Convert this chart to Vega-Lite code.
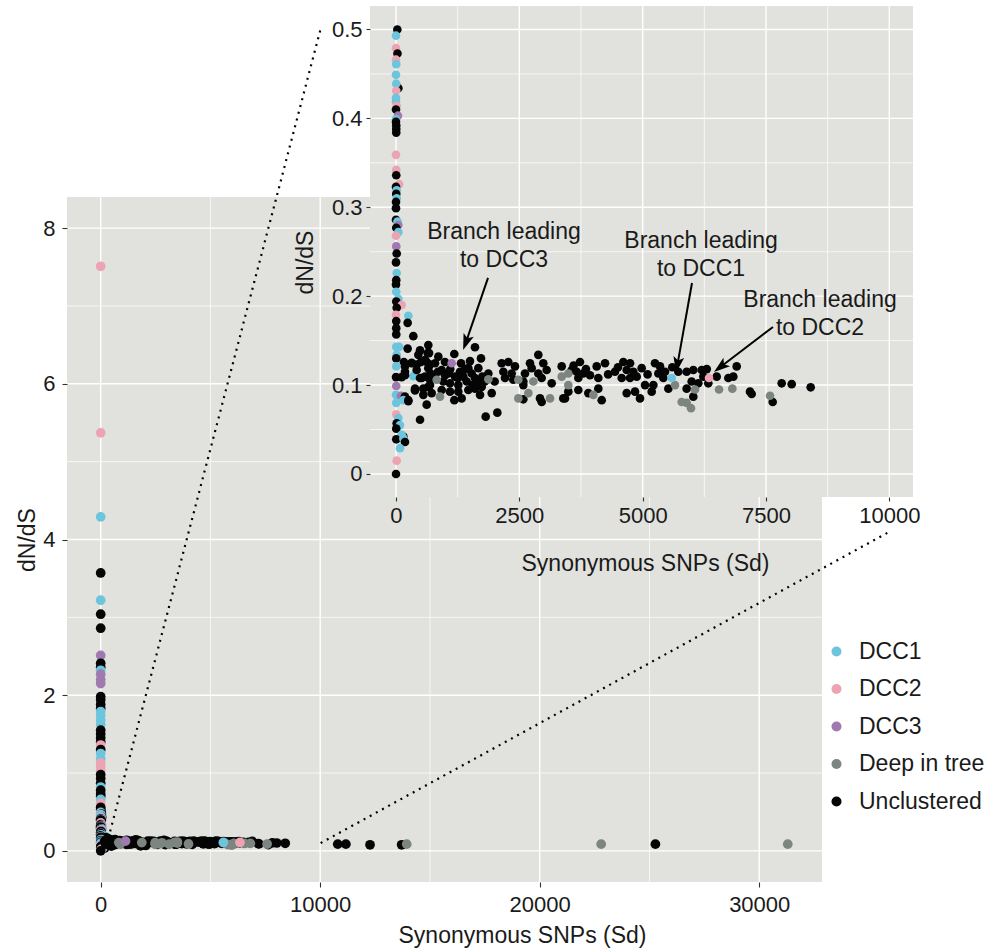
{
  "$schema": "https://vega.github.io/schema/vega-lite/v6.json",
  "width": 987,
  "height": 949,
  "autosize": {"type": "none"},
  "padding": 0,
  "background": "white",
  "config": {
    "view": {"stroke": null},
    "font": "Liberation Sans",
    "axis": {"domain": false, "grid": false, "tickColor": "#333333", "tickWidth": 1.1, "labelFont": "Liberation Sans", "labelFontSize": 22, "labelColor": "#1a1a1a", "titleFont": "Liberation Sans", "titleFontSize": 23, "titleFontWeight": "normal", "titleColor": "#1a1a1a", "labelFlush": false, "labelOverlap": false, "zindex": 1}
  },
  "datasets": {
    "pts": [
      {"sd":0,"dnds":7.51,"group":"DCC2"},{"sd":0,"dnds":5.37,"group":"DCC2"},{"sd":0,"dnds":4.29,"group":"DCC1"},{"sd":0,"dnds":3.57,"group":"Unclustered"},{"sd":0,"dnds":3.22,"group":"DCC1"},{"sd":0,"dnds":3.04,"group":"Unclustered"},{"sd":0,"dnds":2.86,"group":"Unclustered"},{"sd":0,"dnds":2.51,"group":"DCC3"},{"sd":0,"dnds":2.41,"group":"Unclustered"},{"sd":0,"dnds":2.36,"group":"Unclustered"},{"sd":0,"dnds":2.32,"group":"DCC1"},{"sd":0,"dnds":2.27,"group":"DCC3"},{"sd":0,"dnds":2.2,"group":"DCC3"},{"sd":0,"dnds":2.15,"group":"DCC3"},{"sd":0,"dnds":1.98,"group":"Unclustered"},{"sd":0,"dnds":1.94,"group":"Unclustered"},{"sd":0,"dnds":1.88,"group":"Unclustered"},{"sd":0,"dnds":1.83,"group":"Unclustered"},{"sd":0,"dnds":1.79,"group":"DCC1"},{"sd":0,"dnds":1.74,"group":"DCC1"},{"sd":0,"dnds":1.68,"group":"DCC1"},{"sd":0,"dnds":1.62,"group":"DCC1"},{"sd":0,"dnds":1.55,"group":"Unclustered"},{"sd":0,"dnds":1.5,"group":"Unclustered"},{"sd":0,"dnds":1.45,"group":"Unclustered"},{"sd":0,"dnds":1.4,"group":"Unclustered"},{"sd":0,"dnds":1.36,"group":"DCC2"},{"sd":0,"dnds":1.3,"group":"Unclustered"},{"sd":0,"dnds":1.25,"group":"DCC1"},{"sd":0,"dnds":1.18,"group":"DCC1"},{"sd":0,"dnds":1.13,"group":"DCC2"},{"sd":0,"dnds":1.08,"group":"DCC2"},{"sd":0,"dnds":1.03,"group":"DCC2"},{"sd":0,"dnds":0.98,"group":"Unclustered"},{"sd":0,"dnds":0.93,"group":"Unclustered"},{"sd":0,"dnds":0.87,"group":"Unclustered"},{"sd":0,"dnds":0.82,"group":"DCC1"},{"sd":0,"dnds":0.78,"group":"Unclustered"},{"sd":0,"dnds":0.73,"group":"Unclustered"},{"sd":0,"dnds":0.7,"group":"Unclustered"},{"sd":0,"dnds":0.66,"group":"DCC1"},{"sd":0,"dnds":0.61,"group":"DCC2"},{"sd":0,"dnds":0.56,"group":"Unclustered"},{"sd":0,"dnds":0.53,"group":"Unclustered"},
      {"sd":27,"dnds":0.5,"group":"Unclustered"},{"sd":0,"dnds":0.493,"group":"DCC1"},{"sd":0,"dnds":0.479,"group":"DCC2"},{"sd":30,"dnds":0.473,"group":"Unclustered"},{"sd":0,"dnds":0.466,"group":"DCC2"},{"sd":5,"dnds":0.461,"group":"DCC1"},{"sd":0,"dnds":0.449,"group":"DCC1"},{"sd":47,"dnds":0.434,"group":"Unclustered"},{"sd":5,"dnds":0.439,"group":"DCC1"},{"sd":5,"dnds":0.431,"group":"DCC2"},{"sd":0,"dnds":0.423,"group":"DCC1"},{"sd":0,"dnds":0.419,"group":"DCC1"},{"sd":14,"dnds":0.414,"group":"DCC2"},{"sd":0,"dnds":0.41,"group":"Unclustered"},{"sd":40,"dnds":0.403,"group":"DCC3"},{"sd":0,"dnds":0.399,"group":"DCC1"},{"sd":0,"dnds":0.396,"group":"Unclustered"},{"sd":5,"dnds":0.392,"group":"Unclustered"},{"sd":5,"dnds":0.388,"group":"Unclustered"},{"sd":5,"dnds":0.384,"group":"Unclustered"},{"sd":0,"dnds":0.359,"group":"DCC2"},{"sd":5,"dnds":0.342,"group":"DCC2"},{"sd":5,"dnds":0.336,"group":"Unclustered"},{"sd":61,"dnds":0.326,"group":"DCC2"},{"sd":0,"dnds":0.323,"group":"Unclustered"},{"sd":14,"dnds":0.319,"group":"DCC1"},{"sd":5,"dnds":0.315,"group":"Unclustered"},{"sd":14,"dnds":0.31,"group":"DCC1"},{"sd":0,"dnds":0.306,"group":"Unclustered"},{"sd":0,"dnds":0.299,"group":"Unclustered"},{"sd":0,"dnds":0.286,"group":"Unclustered"},{"sd":30,"dnds":0.284,"group":"DCC1"},{"sd":47,"dnds":0.28,"group":"DCC3"},{"sd":5,"dnds":0.277,"group":"Unclustered"},{"sd":47,"dnds":0.272,"group":"DCC1"},{"sd":0,"dnds":0.268,"group":"DCC2"},{"sd":5,"dnds":0.256,"group":"DCC3"},
      {"sd":14,"dnds":0.248,"group":"Unclustered"},{"sd":0,"dnds":0.238,"group":"Unclustered"},{"sd":14,"dnds":0.226,"group":"DCC1"},{"sd":5,"dnds":0.218,"group":"Unclustered"},{"sd":0,"dnds":0.213,"group":"Unclustered"},{"sd":5,"dnds":0.205,"group":"DCC1"},{"sd":47,"dnds":0.197,"group":"DCC1"},{"sd":5,"dnds":0.194,"group":"Unclustered"},{"sd":115,"dnds":0.19,"group":"DCC2"},{"sd":14,"dnds":0.187,"group":"Unclustered"},{"sd":0,"dnds":0.179,"group":"DCC2"},{"sd":250,"dnds":0.178,"group":"DCC1"},{"sd":236,"dnds":0.17,"group":"Unclustered"},{"sd":5,"dnds":0.172,"group":"Unclustered"},{"sd":5,"dnds":0.164,"group":"Unclustered"},{"sd":351,"dnds":0.155,"group":"Unclustered"},{"sd":5,"dnds":0.157,"group":"Unclustered"},{"sd":5,"dnds":0.143,"group":"DCC1"},{"sd":61,"dnds":0.143,"group":"DCC1"},{"sd":236,"dnds":0.141,"group":"Unclustered"},{"sd":487,"dnds":0.139,"group":"Unclustered"},{"sd":655,"dnds":0.145,"group":"Unclustered"},{"sd":14,"dnds":0.134,"group":"DCC1"},{"sd":5,"dnds":0.13,"group":"Unclustered"},{"sd":160,"dnds":0.126,"group":"Unclustered"},{"sd":318,"dnds":0.125,"group":"Unclustered"},{"sd":453,"dnds":0.134,"group":"Unclustered"},{"sd":642,"dnds":0.136,"group":"Unclustered"},{"sd":419,"dnds":0.123,"group":"Unclustered"},{"sd":588,"dnds":0.128,"group":"Unclustered"},{"sd":689,"dnds":0.123,"group":"Unclustered"},{"sd":5,"dnds":0.121,"group":"DCC1"},{"sd":182,"dnds":0.115,"group":"Unclustered"},{"sd":115,"dnds":0.109,"group":"Unclustered"},{"sd":351,"dnds":0.11,"group":"DCC1"},{"sd":0,"dnds":0.109,"group":"Unclustered"},{"sd":487,"dnds":0.108,"group":"Unclustered"},{"sd":689,"dnds":0.106,"group":"Unclustered"},{"sd":655,"dnds":0.098,"group":"Unclustered"},{"sd":5,"dnds":0.099,"group":"DCC3"},{"sd":385,"dnds":0.094,"group":"Unclustered"},{"sd":554,"dnds":0.096,"group":"Unclustered"},{"sd":0,"dnds":0.089,"group":"DCC1"},{"sd":101,"dnds":0.088,"group":"DCC3"},{"sd":182,"dnds":0.087,"group":"Unclustered"},{"sd":149,"dnds":0.083,"group":"DCC1"},{"sd":250,"dnds":0.082,"group":"Unclustered"},{"sd":622,"dnds":0.078,"group":"Unclustered"},{"sd":5,"dnds":0.08,"group":"DCC1"},{"sd":5,"dnds":0.067,"group":"DCC2"},{"sd":487,"dnds":0.061,"group":"Unclustered"},{"sd":47,"dnds":0.063,"group":"DCC1"},{"sd":14,"dnds":0.057,"group":"Unclustered"},{"sd":81,"dnds":0.055,"group":"DCC1"},{"sd":5,"dnds":0.051,"group":"Unclustered"},{"sd":149,"dnds":0.042,"group":"Unclustered"},{"sd":115,"dnds":0.044,"group":"DCC1"},{"sd":5,"dnds":0.039,"group":"Unclustered"},{"sd":149,"dnds":0.04,"group":"DCC1"},{"sd":182,"dnds":0.036,"group":"Unclustered"},{"sd":81,"dnds":0.029,"group":"DCC1"},{"sd":14,"dnds":0.015,"group":"DCC2"},{"sd":0,"dnds":0.0,"group":"Unclustered"},
      {"sd":670,"dnds":0.136,"group":"Unclustered"},{"sd":858,"dnds":0.132,"group":"Unclustered"},{"sd":1182,"dnds":0.135,"group":"Unclustered"},{"sd":1601,"dnds":0.1425,"group":"Unclustered"},{"sd":1723,"dnds":0.13,"group":"Unclustered"},{"sd":1318,"dnds":0.1245,"group":"Unclustered"},{"sd":993,"dnds":0.126,"group":"Unclustered"},{"sd":791,"dnds":0.1245,"group":"Unclustered"},{"sd":622,"dnds":0.126,"group":"Unclustered"},{"sd":507,"dnds":0.126,"group":"Unclustered"},{"sd":318,"dnds":0.1245,"group":"Unclustered"},{"sd":182,"dnds":0.121,"group":"Unclustered"},{"sd":419,"dnds":0.117,"group":"Unclustered"},{"sd":655,"dnds":0.119,"group":"Unclustered"},{"sd":926,"dnds":0.117,"group":"Unclustered"},{"sd":1060,"dnds":0.113,"group":"Unclustered"},{"sd":1297,"dnds":0.115,"group":"Unclustered"},{"sd":1466,"dnds":0.119,"group":"Unclustered"},{"sd":1669,"dnds":0.119,"group":"Unclustered"},{"sd":1534,"dnds":0.113,"group":"Unclustered"},{"sd":1365,"dnds":0.1095,"group":"Unclustered"},{"sd":1196,"dnds":0.1095,"group":"Unclustered"},{"sd":993,"dnds":0.111,"group":"Unclustered"},{"sd":791,"dnds":0.108,"group":"Unclustered"},{"sd":588,"dnds":0.1095,"group":"Unclustered"},{"sd":182,"dnds":0.111,"group":"Unclustered"},{"sd":959,"dnds":0.104,"group":"Unclustered"},{"sd":1095,"dnds":0.102,"group":"Unclustered"},{"sd":1263,"dnds":0.1,"group":"Unclustered"},{"sd":1433,"dnds":0.104,"group":"Unclustered"},{"sd":1601,"dnds":0.108,"group":"Unclustered"},{"sd":1750,"dnds":0.1095,"group":"Unclustered"},{"sd":1737,"dnds":0.098,"group":"Unclustered"},{"sd":1601,"dnds":0.096,"group":"Unclustered"},{"sd":1466,"dnds":0.0945,"group":"Unclustered"},{"sd":1263,"dnds":0.0926,"group":"Unclustered"},{"sd":1095,"dnds":0.0926,"group":"Unclustered"},{"sd":926,"dnds":0.0945,"group":"Unclustered"},{"sd":689,"dnds":0.1,"group":"Unclustered"},{"sd":521,"dnds":0.108,"group":"Unclustered"},{"sd":385,"dnds":0.096,"group":"Unclustered"},{"sd":554,"dnds":0.089,"group":"Unclustered"},{"sd":723,"dnds":0.091,"group":"Unclustered"},{"sd":1182,"dnds":0.083,"group":"Unclustered"},{"sd":1331,"dnds":0.085,"group":"Unclustered"},{"sd":1703,"dnds":0.089,"group":"Unclustered"},{"sd":1940,"dnds":0.091,"group":"Unclustered"},{"sd":250,"dnds":0.083,"group":"Unclustered"},{"sd":1818,"dnds":0.0645,"group":"Unclustered"},{"sd":2054,"dnds":0.069,"group":"Unclustered"},{"sd":1872,"dnds":0.113,"group":"Unclustered"},{"sd":1400,"dnds":0.118,"group":"Unclustered"},{"sd":1550,"dnds":0.1,"group":"Unclustered"},{"sd":1650,"dnds":0.104,"group":"Unclustered"},{"sd":1250,"dnds":0.108,"group":"Unclustered"},{"sd":1100,"dnds":0.118,"group":"Unclustered"},{"sd":850,"dnds":0.115,"group":"Unclustered"},{"sd":700,"dnds":0.113,"group":"Unclustered"},{"sd":1800,"dnds":0.104,"group":"Unclustered"},{"sd":1500,"dnds":0.127,"group":"Unclustered"},{"sd":2000,"dnds":0.104,"group":"Unclustered"},
      {"sd":2142,"dnds":0.1245,"group":"Unclustered"},{"sd":2277,"dnds":0.126,"group":"Unclustered"},{"sd":2412,"dnds":0.121,"group":"Unclustered"},{"sd":2176,"dnds":0.115,"group":"Unclustered"},{"sd":2345,"dnds":0.113,"group":"Unclustered"},{"sd":2210,"dnds":0.108,"group":"Unclustered"},{"sd":2378,"dnds":0.106,"group":"Unclustered"},{"sd":2581,"dnds":0.104,"group":"Unclustered"},{"sd":2615,"dnds":0.113,"group":"Unclustered"},{"sd":2750,"dnds":0.119,"group":"Unclustered"},{"sd":2716,"dnds":0.1245,"group":"Unclustered"},{"sd":2885,"dnds":0.134,"group":"Unclustered"},{"sd":2986,"dnds":0.1245,"group":"Unclustered"},{"sd":3054,"dnds":0.117,"group":"Unclustered"},{"sd":2885,"dnds":0.113,"group":"Unclustered"},{"sd":2953,"dnds":0.108,"group":"Unclustered"},{"sd":2581,"dnds":0.1,"group":"Unclustered"},{"sd":2581,"dnds":0.084,"group":"Unclustered"},{"sd":2919,"dnds":0.085,"group":"Unclustered"},{"sd":2953,"dnds":0.081,"group":"Unclustered"},{"sd":3156,"dnds":0.102,"group":"Unclustered"},{"sd":3359,"dnds":0.121,"group":"Unclustered"},{"sd":3392,"dnds":0.085,"group":"Unclustered"},
      {"sd":3730,"dnds":0.126,"group":"Unclustered"},{"sd":3561,"dnds":0.117,"group":"Unclustered"},{"sd":3663,"dnds":0.115,"group":"Unclustered"},{"sd":3797,"dnds":0.113,"group":"Unclustered"},{"sd":3696,"dnds":0.108,"group":"Unclustered"},{"sd":3933,"dnds":0.111,"group":"Unclustered"},{"sd":4068,"dnds":0.121,"group":"Unclustered"},{"sd":4237,"dnds":0.1245,"group":"Unclustered"},{"sd":4101,"dnds":0.108,"group":"Unclustered"},{"sd":3696,"dnds":0.0945,"group":"Unclustered"},{"sd":3493,"dnds":0.0926,"group":"Unclustered"},{"sd":3899,"dnds":0.091,"group":"Unclustered"},{"sd":4170,"dnds":0.083,"group":"Unclustered"},{"sd":4101,"dnds":0.096,"group":"Unclustered"},{"sd":3426,"dnds":0.085,"group":"Unclustered"},{"sd":4439,"dnds":0.115,"group":"Unclustered"},{"sd":4608,"dnds":0.126,"group":"Unclustered"},{"sd":4744,"dnds":0.1245,"group":"Unclustered"},{"sd":4676,"dnds":0.117,"group":"Unclustered"},{"sd":4811,"dnds":0.115,"group":"Unclustered"},{"sd":4575,"dnds":0.108,"group":"Unclustered"},{"sd":4744,"dnds":0.108,"group":"Unclustered"},{"sd":4879,"dnds":0.1095,"group":"Unclustered"},{"sd":4980,"dnds":0.119,"group":"Unclustered"},{"sd":5048,"dnds":0.1,"group":"Unclustered"},{"sd":4676,"dnds":0.091,"group":"Unclustered"},{"sd":4845,"dnds":0.0926,"group":"Unclustered"},{"sd":4946,"dnds":0.085,"group":"Unclustered"},{"sd":5183,"dnds":0.0926,"group":"Unclustered"},{"sd":5217,"dnds":0.1,"group":"Unclustered"},{"sd":5250,"dnds":0.1245,"group":"Unclustered"},{"sd":5352,"dnds":0.121,"group":"Unclustered"},{"sd":5318,"dnds":0.113,"group":"Unclustered"},{"sd":5453,"dnds":0.115,"group":"Unclustered"},{"sd":5419,"dnds":0.108,"group":"Unclustered"},{"sd":5521,"dnds":0.096,"group":"Unclustered"},{"sd":5723,"dnds":0.115,"group":"Unclustered"},{"sd":5892,"dnds":0.115,"group":"Unclustered"},{"sd":6027,"dnds":0.117,"group":"Unclustered"},{"sd":6197,"dnds":0.117,"group":"Unclustered"},{"sd":5993,"dnds":0.104,"group":"Unclustered"},{"sd":6128,"dnds":0.102,"group":"Unclustered"},{"sd":5892,"dnds":0.096,"group":"Unclustered"},{"sd":6027,"dnds":0.087,"group":"Unclustered"},{"sd":6230,"dnds":0.1095,"group":"Unclustered"},{"sd":6501,"dnds":0.1095,"group":"Unclustered"},{"sd":6331,"dnds":0.102,"group":"Unclustered"},{"sd":6737,"dnds":0.108,"group":"Unclustered"},{"sd":6838,"dnds":0.1095,"group":"Unclustered"},{"sd":3600,"dnds":0.122,"group":"Unclustered"},{"sd":3850,"dnds":0.118,"group":"Unclustered"},{"sd":4300,"dnds":0.112,"group":"Unclustered"},{"sd":4500,"dnds":0.12,"group":"Unclustered"},{"sd":5100,"dnds":0.112,"group":"Unclustered"},{"sd":5600,"dnds":0.12,"group":"Unclustered"},{"sd":6300,"dnds":0.118,"group":"Unclustered"},
      {"sd":6906,"dnds":0.121,"group":"Unclustered"},{"sd":7176,"dnds":0.0926,"group":"Unclustered"},{"sd":7210,"dnds":0.09,"group":"Unclustered"},{"sd":7636,"dnds":0.081,"group":"Unclustered"},{"sd":7818,"dnds":0.102,"group":"Unclustered"},{"sd":8021,"dnds":0.101,"group":"Unclustered"},{"sd":8406,"dnds":0.0975,"group":"Unclustered"},
      {"sd":825,"dnds":0.106,"group":"Deep in tree"},{"sd":1872,"dnds":0.1065,"group":"Deep in tree"},{"sd":892,"dnds":0.087,"group":"Deep in tree"},{"sd":2480,"dnds":0.106,"group":"Deep in tree"},{"sd":2784,"dnds":0.104,"group":"Deep in tree"},{"sd":2683,"dnds":0.091,"group":"Deep in tree"},{"sd":2480,"dnds":0.085,"group":"Deep in tree"},{"sd":3122,"dnds":0.085,"group":"Deep in tree"},{"sd":3359,"dnds":0.1095,"group":"Deep in tree"},{"sd":3493,"dnds":0.1,"group":"Deep in tree"},{"sd":3493,"dnds":0.113,"group":"Deep in tree"},{"sd":4000,"dnds":0.089,"group":"Deep in tree"},{"sd":5656,"dnds":0.1,"group":"Deep in tree"},{"sd":6061,"dnds":0.095,"group":"Deep in tree"},{"sd":5791,"dnds":0.081,"group":"Deep in tree"},{"sd":5892,"dnds":0.08,"group":"Deep in tree"},{"sd":5980,"dnds":0.074,"group":"Deep in tree"},{"sd":6548,"dnds":0.095,"group":"Deep in tree"},{"sd":6818,"dnds":0.096,"group":"Deep in tree"},{"sd":7582,"dnds":0.088,"group":"Deep in tree"},
      {"sd":1129,"dnds":0.1245,"group":"DCC3"},{"sd":5588,"dnds":0.108,"group":"DCC1"},{"sd":6345,"dnds":0.108,"group":"DCC2"},
      {"sd":10800,"dnds":0.086,"group":"Unclustered"},{"sd":11170,"dnds":0.086,"group":"Unclustered"},{"sd":12270,"dnds":0.078,"group":"Unclustered"},{"sd":13710,"dnds":0.078,"group":"Unclustered"},{"sd":13940,"dnds":0.086,"group":"Deep in tree"},{"sd":22800,"dnds":0.086,"group":"Deep in tree"},{"sd":25270,"dnds":0.086,"group":"Unclustered"},{"sd":31300,"dnds":0.086,"group":"Deep in tree"}
    ],
    "grid": [
      {"panel":"main","dir":"x","v":0,"kind":"major"},{"panel":"main","dir":"x","v":10000,"kind":"major"},{"panel":"main","dir":"x","v":20000,"kind":"major"},{"panel":"main","dir":"x","v":30000,"kind":"major"},
      {"panel":"main","dir":"x","v":5000,"kind":"minor"},{"panel":"main","dir":"x","v":15000,"kind":"minor"},{"panel":"main","dir":"x","v":25000,"kind":"minor"},
      {"panel":"main","dir":"y","v":0,"kind":"major"},{"panel":"main","dir":"y","v":2,"kind":"major"},{"panel":"main","dir":"y","v":4,"kind":"major"},{"panel":"main","dir":"y","v":6,"kind":"major"},{"panel":"main","dir":"y","v":8,"kind":"major"},
      {"panel":"main","dir":"y","v":1,"kind":"minor"},{"panel":"main","dir":"y","v":3,"kind":"minor"},{"panel":"main","dir":"y","v":5,"kind":"minor"},{"panel":"main","dir":"y","v":7,"kind":"minor"},
      {"panel":"inset","dir":"x","v":0,"kind":"major"},{"panel":"inset","dir":"x","v":2500,"kind":"major"},{"panel":"inset","dir":"x","v":5000,"kind":"major"},{"panel":"inset","dir":"x","v":7500,"kind":"major"},{"panel":"inset","dir":"x","v":10000,"kind":"major"},
      {"panel":"inset","dir":"x","v":1250,"kind":"minor"},{"panel":"inset","dir":"x","v":3750,"kind":"minor"},{"panel":"inset","dir":"x","v":6250,"kind":"minor"},{"panel":"inset","dir":"x","v":8750,"kind":"minor"},
      {"panel":"inset","dir":"y","v":0,"kind":"major"},{"panel":"inset","dir":"y","v":0.1,"kind":"major"},{"panel":"inset","dir":"y","v":0.2,"kind":"major"},{"panel":"inset","dir":"y","v":0.3,"kind":"major"},{"panel":"inset","dir":"y","v":0.4,"kind":"major"},{"panel":"inset","dir":"y","v":0.5,"kind":"major"},
      {"panel":"inset","dir":"y","v":0.05,"kind":"minor"},{"panel":"inset","dir":"y","v":0.15,"kind":"minor"},{"panel":"inset","dir":"y","v":0.25,"kind":"minor"},{"panel":"inset","dir":"y","v":0.35,"kind":"minor"},{"panel":"inset","dir":"y","v":0.45,"kind":"minor"}
    ],
    "zoomlines": [
      {"x0":430,"y0":0.25,"x1":10020,"y1":10.56},
      {"x0":10020,"y0":0.1,"x1":35868,"y1":4.09}
    ],
    "ann": [
      {"label":"DCC3","text":"Branch leading\nto DCC3","tx":2189,"ty":0.2722,"x0":1865,"y0":0.2205,"x1":1423,"y1":0.1489},
      {"label":"DCC1","text":"Branch leading\nto DCC1","tx":6183,"ty":0.2621,"x0":6000,"y0":0.2148,"x1":5707,"y1":0.1236},
      {"label":"DCC2","text":"Branch leading\nto DCC2","tx":8595,"ty":0.1957,"x0":7642,"y0":0.1654,"x1":6590,"y1":0.1209}
    ]
  },
  "resolve": {"scale": {"x": "independent", "y": "independent"}, "axis": {"x": "independent", "y": "independent"}},
  "layer": [
    {
      "data": {"values": [{}]},
      "mark": {"type": "rect", "color": "#E1E2DD"},
      "encoding": {
        "x": {"datum": -1535, "type": "quantitative", "axis": null, "scale": {"domain": [-1535, 32860], "range": [67, 822], "nice": false, "zero": false}},
        "x2": {"datum": 32860},
        "y": {"datum": -0.4, "type": "quantitative", "axis": null, "scale": {"domain": [-0.4, 8.4], "range": [882, 197], "nice": false, "zero": false}},
        "y2": {"datum": 8.4}
      }
    },
    {
      "data": {"name": "grid"},
      "transform": [{"filter": "datum.panel === 'main' && datum.dir === 'x'"}],
      "mark": {"type": "rule", "color": "white"},
      "encoding": {
        "x": {"field": "v", "type": "quantitative", "axis": null, "scale": {"domain": [-1535, 32860], "range": [67, 822], "nice": false, "zero": false}},
        "y": {"datum": -0.4, "type": "quantitative", "axis": null, "scale": {"domain": [-0.4, 8.4], "range": [882, 197], "nice": false, "zero": false}},
        "y2": {"datum": 8.4},
        "strokeWidth": {"field": "kind", "type": "nominal", "scale": {"domain": ["major", "minor"], "range": [1.4, 0.7]}, "legend": null}
      }
    },
    {
      "data": {"name": "grid"},
      "transform": [{"filter": "datum.panel === 'main' && datum.dir === 'y'"}],
      "mark": {"type": "rule", "color": "white"},
      "encoding": {
        "y": {"field": "v", "type": "quantitative", "axis": null, "scale": {"domain": [-0.4, 8.4], "range": [882, 197], "nice": false, "zero": false}},
        "x": {"datum": -1535, "type": "quantitative", "axis": null, "scale": {"domain": [-1535, 32860], "range": [67, 822], "nice": false, "zero": false}},
        "x2": {"datum": 32860},
        "strokeWidth": {"field": "kind", "type": "nominal", "scale": {"domain": ["major", "minor"], "range": [1.4, 0.7]}, "legend": null}
      }
    },
    {
      "data": {"name": "pts"},
      "mark": {"type": "circle", "size": 95, "opacity": 1},
      "encoding": {
        "x": {"field": "sd", "type": "quantitative", "scale": {"domain": [-1535, 32860], "range": [67, 822], "nice": false, "zero": false}, "axis": {"orient": "bottom", "title": "Synonymous SNPs (Sd)", "values": [0, 10000, 20000, 30000], "format": "d", "offset": -67, "tickSize": 5, "labelPadding": 7, "titlePadding": 9, "titleX": 522, "zindex": 1}},
        "y": {"field": "dnds", "type": "quantitative", "scale": {"domain": [-0.4, 8.4], "range": [882, 197], "nice": false, "zero": false}, "axis": {"orient": "left", "title": "dN/dS", "values": [0, 2, 4, 6, 8], "format": "d", "offset": -67, "tickSize": 5, "labelPadding": 7, "titlePadding": 3, "zindex": 1}},
        "color": {
          "field": "group", "type": "nominal",
          "scale": {"domain": ["DCC1", "DCC2", "DCC3", "Deep in tree", "Unclustered"], "range": ["#6CC5DC", "#ECA4B4", "#A079B0", "#7C8580", "#050505"]},
          "legend": {"title": null, "orient": "none", "legendX": 825, "legendY": 640, "labelFontSize": 23, "labelFont": "Liberation Sans", "labelColor": "#1a1a1a", "symbolSize": 100, "rowPadding": 13.5, "labelOffset": 11, "symbolType": "circle", "padding": 0}
        }
      }
    },
    {
      "data": {"name": "zoomlines"},
      "mark": {"type": "rule", "color": "black", "strokeWidth": 2.2, "strokeDash": [2, 5]},
      "encoding": {
        "x": {"field": "x0", "type": "quantitative", "axis": null, "scale": {"domain": [-1535, 32860], "range": [67, 822], "nice": false, "zero": false}},
        "y": {"field": "y0", "type": "quantitative", "axis": null, "scale": {"domain": [-0.4, 8.4], "range": [882, 197], "nice": false, "zero": false}},
        "x2": {"field": "x1"},
        "y2": {"field": "y1"}
      }
    },
    {
      "data": {"values": [{}]},
      "mark": {"type": "rect", "color": "#E1E2DD"},
      "encoding": {
        "x": {"datum": -527, "type": "quantitative", "axis": null, "scale": {"domain": [-527, 10480], "range": [370, 913], "nice": false, "zero": false}},
        "x2": {"datum": 10480},
        "y": {"datum": -0.0259, "type": "quantitative", "axis": null, "scale": {"domain": [-0.0259, 0.5264], "range": [497, 6], "nice": false, "zero": false}},
        "y2": {"datum": 0.5264}
      }
    },
    {
      "data": {"name": "grid"},
      "transform": [{"filter": "datum.panel === 'inset' && datum.dir === 'x'"}],
      "mark": {"type": "rule", "color": "white"},
      "encoding": {
        "x": {"field": "v", "type": "quantitative", "axis": null, "scale": {"domain": [-527, 10480], "range": [370, 913], "nice": false, "zero": false}},
        "y": {"datum": -0.0259, "type": "quantitative", "axis": null, "scale": {"domain": [-0.0259, 0.5264], "range": [497, 6], "nice": false, "zero": false}},
        "y2": {"datum": 0.5264},
        "strokeWidth": {"field": "kind", "type": "nominal", "scale": {"domain": ["major", "minor"], "range": [1.4, 0.7]}, "legend": null}
      }
    },
    {
      "data": {"name": "grid"},
      "transform": [{"filter": "datum.panel === 'inset' && datum.dir === 'y'"}],
      "mark": {"type": "rule", "color": "white"},
      "encoding": {
        "y": {"field": "v", "type": "quantitative", "axis": null, "scale": {"domain": [-0.0259, 0.5264], "range": [497, 6], "nice": false, "zero": false}},
        "x": {"datum": -527, "type": "quantitative", "axis": null, "scale": {"domain": [-527, 10480], "range": [370, 913], "nice": false, "zero": false}},
        "x2": {"datum": 10480},
        "strokeWidth": {"field": "kind", "type": "nominal", "scale": {"domain": ["major", "minor"], "range": [1.4, 0.7]}, "legend": null}
      }
    },
    {
      "data": {"name": "pts"},
      "transform": [{"filter": "datum.sd <= 10400 && datum.dnds <= 0.52"}],
      "mark": {"type": "circle", "size": 75, "opacity": 1},
      "encoding": {
        "x": {"field": "sd", "type": "quantitative", "scale": {"domain": [-527, 10480], "range": [370, 913], "nice": false, "zero": false}, "axis": {"orient": "bottom", "title": "Synonymous SNPs (Sd)", "values": [0, 2500, 5000, 7500, 10000], "format": "d", "offset": -452, "tickSize": 4, "labelPadding": 4, "titlePadding": 26, "titleX": 645, "zindex": 1}},
        "y": {"field": "dnds", "type": "quantitative", "scale": {"domain": [-0.0259, 0.5264], "range": [497, 6], "nice": false, "zero": false}, "axis": {"orient": "left", "title": "dN/dS", "values": [0, 0.1, 0.2, 0.3, 0.4, 0.5], "format": "~g", "offset": -370, "tickSize": 4, "labelPadding": 4, "titlePadding": 14, "titleY": 262, "zindex": 1}},
        "color": {"field": "group", "type": "nominal", "legend": null}
      }
    },
    {
      "data": {"name": "ann"},
      "mark": {"type": "rule", "color": "black", "strokeWidth": 2},
      "encoding": {
        "x": {"field": "x0", "type": "quantitative", "axis": null, "scale": {"domain": [-527, 10480], "range": [370, 913], "nice": false, "zero": false}},
        "y": {"field": "y0", "type": "quantitative", "axis": null, "scale": {"domain": [-0.0259, 0.5264], "range": [497, 6], "nice": false, "zero": false}},
        "x2": {"field": "x1"},
        "y2": {"field": "y1"}
      }
    },
    {
      "data": {"name": "ann"},
      "transform": [{"filter": "datum.label === 'DCC3'"}],
      "mark": {"type": "point", "shape": "M0,-1L0.6,0.8L0,0.4L-0.6,0.8Z", "filled": true, "color": "black", "opacity": 1, "size": 324, "angle": 200},
      "encoding": {
        "x": {"field": "x1", "type": "quantitative", "axis": null, "scale": {"domain": [-527, 10480], "range": [370, 913], "nice": false, "zero": false}},
        "y": {"field": "y1", "type": "quantitative", "axis": null, "scale": {"domain": [-0.0259, 0.5264], "range": [497, 6], "nice": false, "zero": false}}
      }
    },
    {
      "data": {"name": "ann"},
      "transform": [{"filter": "datum.label === 'DCC1'"}],
      "mark": {"type": "point", "shape": "M0,-1L0.6,0.8L0,0.4L-0.6,0.8Z", "filled": true, "color": "black", "opacity": 1, "size": 324, "angle": 190},
      "encoding": {
        "x": {"field": "x1", "type": "quantitative", "axis": null, "scale": {"domain": [-527, 10480], "range": [370, 913], "nice": false, "zero": false}},
        "y": {"field": "y1", "type": "quantitative", "axis": null, "scale": {"domain": [-0.0259, 0.5264], "range": [497, 6], "nice": false, "zero": false}}
      }
    },
    {
      "data": {"name": "ann"},
      "transform": [{"filter": "datum.label === 'DCC2'"}],
      "mark": {"type": "point", "shape": "M0,-1L0.6,0.8L0,0.4L-0.6,0.8Z", "filled": true, "color": "black", "opacity": 1, "size": 324, "angle": 232},
      "encoding": {
        "x": {"field": "x1", "type": "quantitative", "axis": null, "scale": {"domain": [-527, 10480], "range": [370, 913], "nice": false, "zero": false}},
        "y": {"field": "y1", "type": "quantitative", "axis": null, "scale": {"domain": [-0.0259, 0.5264], "range": [497, 6], "nice": false, "zero": false}}
      }
    },
    {
      "data": {"name": "ann"},
      "mark": {"type": "text", "font": "Liberation Sans", "fontSize": 23, "color": "#1a1a1a", "align": "center", "baseline": "middle", "lineBreak": "\n", "lineHeight": 28},
      "encoding": {
        "x": {"field": "tx", "type": "quantitative", "axis": null, "scale": {"domain": [-527, 10480], "range": [370, 913], "nice": false, "zero": false}},
        "y": {"field": "ty", "type": "quantitative", "axis": null, "scale": {"domain": [-0.0259, 0.5264], "range": [497, 6], "nice": false, "zero": false}},
        "text": {"field": "text"}
      }
    }
  ]
}
